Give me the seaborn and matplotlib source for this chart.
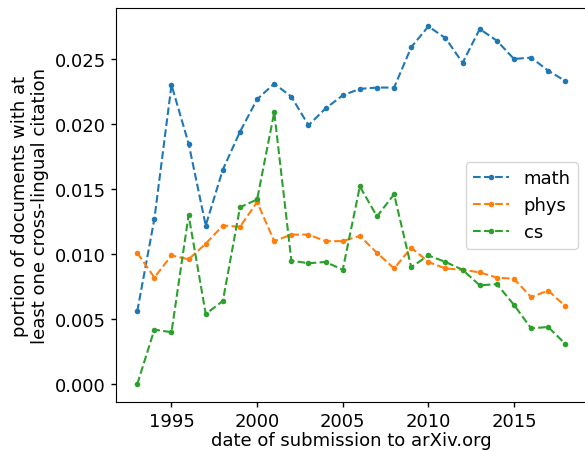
import matplotlib

matplotlib.use("Agg")
import matplotlib.pyplot as plt
import pandas as pd
import seaborn as sns

years = list(range(1993, 2019))
math_vals = [0.0056, 0.0127, 0.0230, 0.0185, 0.0122, 0.0165, 0.0194, 0.0219, 0.0231, 0.0221,
             0.0199, 0.0212, 0.0222, 0.0227, 0.0228, 0.0228, 0.0259, 0.0275, 0.0266, 0.0247,
             0.0273, 0.0264, 0.0250, 0.0251, 0.0241, 0.0233]
phys_vals = [0.0101, 0.0082, 0.0099, 0.0096, 0.0108, 0.0122, 0.0121, 0.0140, 0.0110, 0.0115,
             0.0115, 0.0110, 0.0110, 0.0114, 0.0101, 0.0089, 0.0105, 0.0094, 0.0089, 0.0088,
             0.0086, 0.0082, 0.0081, 0.0067, 0.0072, 0.0060]
cs_vals = [0.0000, 0.0042, 0.0040, 0.0130, 0.0054, 0.0064, 0.0136, 0.0142, 0.0209, 0.0095,
           0.0093, 0.0094, 0.0088, 0.0152, 0.0129, 0.0146, 0.0090, 0.0099, 0.0094, 0.0088,
           0.0076, 0.0077, 0.0061, 0.0043, 0.0044, 0.0031]
fields = ["math", "phys", "cs"]
colors = ["#1f77b4", "#ff7f0e", "#2ca02c"]

df = pd.DataFrame({"year": years, "math": math_vals, "phys": phys_vals, "cs": cs_vals})

sns.set_style("ticks", {
    "axes.edgecolor": "black",
    "axes.labelcolor": "black",
    "text.color": "black",
    "xtick.color": "black",
    "ytick.color": "black",
})
plt.rcParams["font.family"] = ["DejaVu Sans"]
plt.rcParams["font.size"] = 13

fig = plt.figure(figsize=(5.85, 4.52), dpi=100)
ax = fig.add_axes([0.198, 0.108, 0.805, 0.871])

for field, color in zip(fields, colors):
    sns.lineplot(data=df, x="year", y=field, ax=ax, color=color, linestyle="--",
                 marker=".", markersize=8, markeredgewidth=0, label=field)

ax.set_xlabel("date of submission to arXiv.org", fontsize=13, labelpad=1)
ax.set_ylabel("portion of documents with at\nleast one cross-lingual citation", fontsize=13)
ax.tick_params(labelsize=13, width=1, length=3.5, pad=3.5)
ax.legend(loc="center right", fontsize=13)

fig.savefig("out.png", dpi=100)
